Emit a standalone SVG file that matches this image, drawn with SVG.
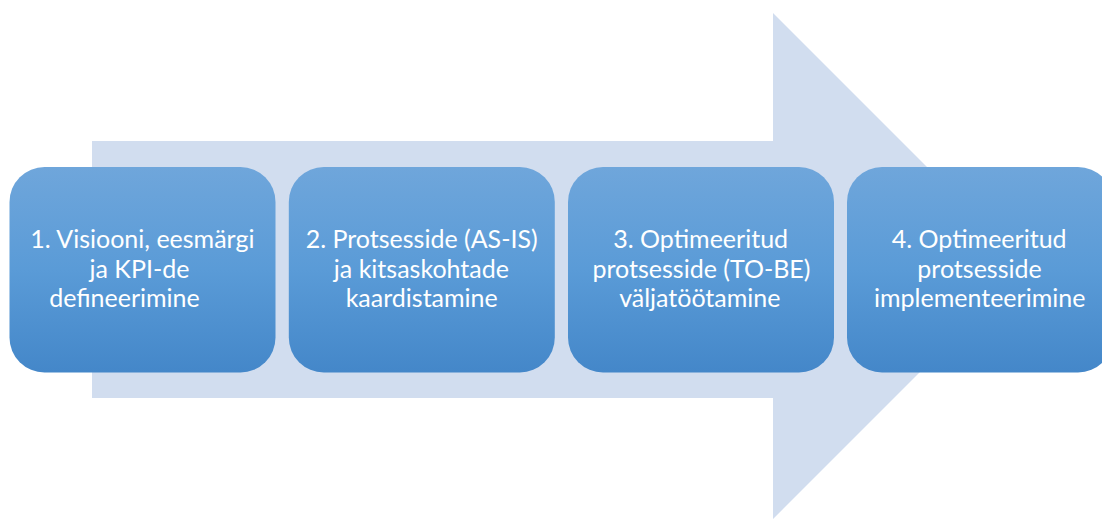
<svg xmlns="http://www.w3.org/2000/svg" width="1102" height="520" viewBox="0 0 1102 520">
  <defs>
    <linearGradient id="stepFill" x1="0" y1="0" x2="0" y2="1">
      <stop offset="0" stop-color="#6fa6db"/>
      <stop offset="0.5" stop-color="#5a9bd7"/>
      <stop offset="1" stop-color="#4487c9"/>
    </linearGradient>
  </defs>
  <style>
    .step { fill: url(#stepFill); }
    .label { font-family: Lato, "Open Sans", "Liberation Sans", sans-serif; font-size: 25px; fill: #ffffff; text-anchor: middle; }
  </style>
  <rect width="1102" height="520" fill="#ffffff"/>

  <!-- background process arrow -->
  <g id="connectors">
    <polygon points="92,141 773,141 773,13 1026,266 773,519 773,398 92,398" fill="#d1ddef"/>
  </g>

  <g id="step1">
    <rect class="step" x="9.5" y="167" width="266" height="205.5" rx="35" ry="35"/>
    <text class="label" x="142.4" y="248">1. Visiooni, eesmärgi</text>
    <text class="label" x="139.5" y="277.5">ja KPI-de</text>
    <text class="label" x="124.5" y="307">defineerimine</text>
  </g>

  <g id="step2">
    <rect class="step" x="288.8" y="167" width="266" height="205.5" rx="35" ry="35"/>
    <text class="label" x="421.7" y="248">2. Protsesside (AS-IS)</text>
    <text class="label" x="421.4" y="277.5">ja kitsaskohtade</text>
    <text class="label" x="421.7" y="307">kaardistamine</text>
  </g>

  <g id="step3">
    <rect class="step" x="568" y="167" width="266" height="205.5" rx="35" ry="35"/>
    <text class="label" x="700.7" y="248">3. Optimeeritud</text>
    <text class="label" x="701.5" y="277.5">protsesside (TO-BE)</text>
    <text class="label" x="699.8" y="307">väljatöötamine</text>
  </g>

  <g id="step4">
    <rect class="step" x="847" y="167" width="266" height="205.5" rx="35" ry="35"/>
    <text class="label" x="979.2" y="248">4. Optimeeritud</text>
    <text class="label" x="979.5" y="277.5">protsesside</text>
    <text class="label" x="979.7" y="307">implementeerimine</text>
  </g>
</svg>
